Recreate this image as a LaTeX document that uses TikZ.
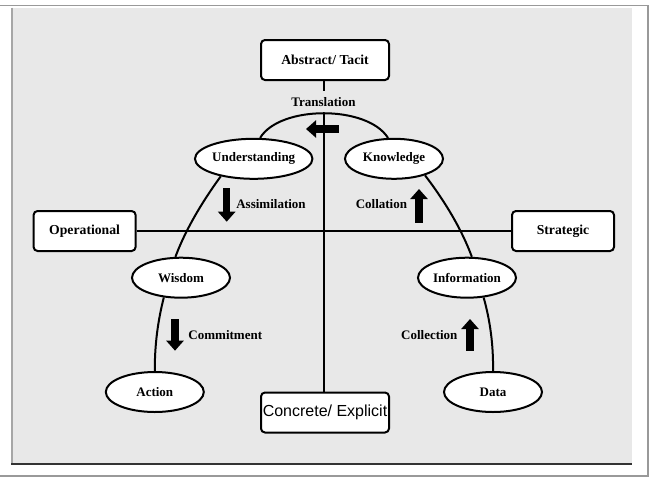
\documentclass[tikz,border=0pt]{standalone}
\usepackage{fontspec}
\setmainfont{Liberation Serif}
\newfontfamily\arialf{Liberation Sans}
\usetikzlibrary{arrows.meta,shapes.geometric}
\begin{document}
\begin{tikzpicture}[x=1pt,y=-1pt,
  box/.style={draw, line width=2pt, rounded corners=4pt, fill=white, minimum width=128pt, minimum height=40pt, inner sep=0pt, font=\fontsize{13.7}{15}\selectfont\bfseries},
  ell/.style={draw, ellipse, line width=2pt, fill=white, minimum width=98pt, minimum height=40pt, inner sep=0pt, font=\fontsize{13}{15}\selectfont\bfseries},
  lbl/.style={font=\fontsize{13}{15}\selectfont\bfseries, inner sep=0pt},
  conn/.style={line width=2pt},
  blk/.style={line width=7.5pt, -{Triangle[width=17pt,length=10pt]}}
]
\useasboundingbox (0,0) rectangle (652,479);
% frame
\fill[white] (0,0) rectangle (652,479);
\draw[line width=1.5pt, gray!80] (0,5.5) -- (648,5.5) -- (648,476) -- (0,476);
\fill[black!9] (11,7.5) rectangle (632,464);
\draw[line width=2pt, gray!70] (12,7.5) -- (12,464);
\draw[line width=1.3pt, black!80] (11,464) -- (632,464);

% nodes
\node[box] (AT) at (325,60) {Abstract/ Tacit};
\node[box, font=\arialf\fontsize{16}{18}\selectfont] (CE) at (325,412.5) {Concrete/ Explicit};
\node[box, minimum width=102pt] (OP) at (84.6,231) {Operational};
\node[box, minimum width=102pt] (ST) at (563,231) {Strategic};
\node[lbl, minimum height=22pt] (TR) at (323.5,102) {Translation};

\node[ell] (U) at (253.7,158.8) {Understanding};
\node[ell] (K) at (394,158.8) {Knowledge};
\node[ell] (W) at (181,277.7) {Wisdom};
\node[ell] (I) at (467,277.7) {Information};
\node[ell] (A) at (154.8,392) {Action};
\node[ell] (D) at (493,392) {Data};

% connectors
\draw[conn] (AT.south -| TR) -- (TR.north);
\draw[conn] (TR.south) -- (CE.north -| TR);
\draw[conn] (OP.east) -- (ST.west);
\draw[conn] (U.73.4) .. controls (280,105) and (367.4,105) .. (K.106.6);
\draw[conn] (U.208) .. controls (202,202) and (185.4,230) .. (W.105);
\draw[conn] (K.332) .. controls (445.4,202) and (462,230) .. (I.77);
\draw[conn] (W.229) .. controls (158,320) and (154.6,345) .. (A.north);
\draw[conn] (I.310) .. controls (490,320) and (493.5,345) .. (D.north);

% block arrows
\draw[blk] (338.7,129) -- (306,129);
\draw[blk] (226.7,188.3) -- (226.7,221.7);
\draw[blk] (419,222.7) -- (419,189);
\draw[blk] (175,319) -- (175,350.7);
\draw[blk] (470,350.7) -- (470,319);

% labels
\node[lbl] (LA) at (271,204) {Assimilation};
\node[lbl] (LC) at (381.4,204) {Collation};
\node[lbl] (LM) at (225.3,335) {Commitment};
\node[lbl] (LN) at (429.3,335) {Collection};
\end{tikzpicture}
\end{document}
